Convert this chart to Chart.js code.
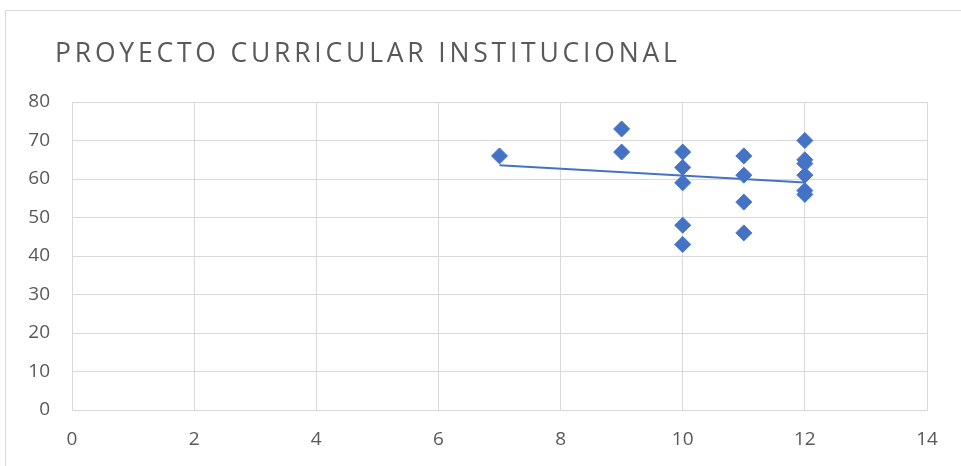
<!DOCTYPE html>
<html>
<head>
<meta charset="utf-8">
<script src="https://cdn.jsdelivr.net/npm/chart.js@4"></script>
<style>
    html, body { margin: 0; padding: 0; background: #ffffff; overflow: hidden; }
    #frame {
        position: absolute; left: 5px; top: 10px;
        width: 1000px; height: 500px;
        border: 1px solid #d9d9d9;
    }
    #wrap { position: absolute; left: 0; top: 0; width: 961px; height: 466px; }
</style>
</head>
<body>
<div id="frame"></div>
<div id="wrap"><canvas id="chart" width="961" height="466"></canvas></div>
<script>
// Chart data
const chartTitle = 'PROYECTO CURRICULAR INSTITUCIONAL';
const xValues = [7, 9, 9, 10, 10, 10, 10, 10, 11, 11, 11, 11, 12, 12, 12, 12, 12, 12];
const yValues = [66, 73, 67, 67, 63, 59, 48, 43, 66, 61, 54, 46, 70, 65, 64, 61, 57, 56];
const xTicks = [0, 2, 4, 6, 8, 10, 12, 14];
const yTicks = [0, 10, 20, 30, 40, 50, 60, 70, 80];

const blue = '#4472C4';
const grey = '#d9d9d9';
const textGrey = '#595959';

// Linear trendline (least squares), like Excel's
function trendLine(xs, ys) {
    const n = xs.length;
    const mx = xs.reduce((a, b) => a + b, 0) / n;
    const my = ys.reduce((a, b) => a + b, 0) / n;
    let sxy = 0, sxx = 0;
    xs.forEach((x, i) => {
        sxy += (x - mx) * (ys[i] - my);
        sxx += (x - mx) * (x - mx);
    });
    const slope = sxy / sxx;
    const x0 = Math.min(...xs), x1 = Math.max(...xs);
    return [
        { x: x0, y: my + slope * (x0 - mx) },
        { x: x1, y: my + slope * (x1 - mx) }
    ];
}

// Title with letter spacing
const titlePlugin = {
    id: 'spacedTitle',
    afterDraw(chart) {
        const ctx = chart.ctx;
        ctx.save();
        ctx.font = '26.5px "Open Sans"';
        ctx.fillStyle = textGrey;
        ctx.textBaseline = 'alphabetic';
        ctx.textAlign = 'left';
        ctx.letterSpacing = '3.8px';
        ctx.fillText(chartTitle, 55, 62);
        ctx.restore();
    }
};

const points = xValues.map((x, i) => ({ x: x, y: yValues[i] }));

new Chart(document.getElementById('chart').getContext('2d'), {
    type: 'scatter',
    data: {
        datasets: [{
            type: 'line',
            data: trendLine(xValues, yValues),
            borderColor: blue,
            borderWidth: 2,
            pointRadius: 0,
            fill: false,
            order: 0
        }, {
            data: points,
            pointStyle: 'rectRot',
            pointRadius: 8,
            pointBorderWidth: 1,
            pointBackgroundColor: blue,
            pointBorderColor: blue,
            order: 1
        }]
    },
    options: {
        responsive: false,
        animation: false,
        layout: { padding: { top: 102, right: 34, bottom: 0, left: 0 } },
        plugins: {
            legend: { display: false },
            tooltip: { enabled: false }
        },
        scales: {
            x: {
                type: 'linear',
                min: 0,
                max: 14,
                afterBuildTicks: scale => { scale.ticks = xTicks.map(v => ({ value: v })); },
                afterFit: scale => { scale.height = 56; },
                grid: { color: grey, lineWidth: 1, drawTicks: false },
                border: { color: grey },
                ticks: {
                    padding: 18,
                    color: textGrey,
                    font: { family: 'Open Sans', size: 19 }
                }
            },
            y: {
                min: 0,
                max: 80,
                afterBuildTicks: scale => { scale.ticks = yTicks.map(v => ({ value: v })); },
                afterFit: scale => { scale.width = 72; },
                grid: { color: grey, lineWidth: 1, drawTicks: false },
                border: { color: grey },
                ticks: {
                    padding: 22,
                    color: textGrey,
                    font: { family: 'Open Sans', size: 19 }
                }
            }
        }
    },
    plugins: [titlePlugin]
});
</script>
</body>
</html>
